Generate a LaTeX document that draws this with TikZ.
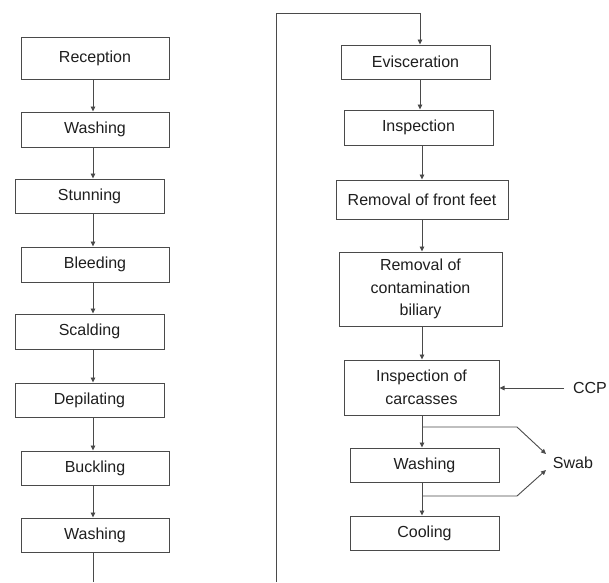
\documentclass[tikz,border=0pt]{standalone}
\usepackage{fontspec}
\setmainfont{Liberation Sans}
\usetikzlibrary{arrows.meta}
\definecolor{ln}{HTML}{4A4A4A}
\definecolor{tx}{HTML}{1E1E1E}
\begin{document}
\begin{tikzpicture}[x=1pt,y=-1pt,
  box/.style={draw=ln,line width=1pt,rectangle,inner sep=0pt,align=center,
    font=\fontsize{16}{22.5}\selectfont,text=tx},
  lbl/.style={inner sep=0pt,font=\fontsize{16}{20}\selectfont,text=tx},
  con/.style={draw=ln,line width=0.9pt},
  arr/.style={con,-{Triangle[length=5pt,width=4.5pt]}}]
\useasboundingbox (0,0) rectangle (609,582);
% left column
\node[box,minimum width=148pt,minimum height=42pt] (rec) at (95,58) {Reception};
\node[box,minimum width=148pt,minimum height=35pt] (wa1) at (95,129.5) {Washing};
\node[box,minimum width=149pt,minimum height=34pt] (stu) at (89.5,196) {Stunning};
\node[box,minimum width=148pt,minimum height=35pt] (ble) at (95,264.5) {Bleeding};
\node[box,minimum width=149pt,minimum height=35pt] (sca) at (89.5,331.5) {Scalding};
\node[box,minimum width=149pt,minimum height=34pt] (dep) at (89.5,400) {Depilating};
\node[box,minimum width=148pt,minimum height=34pt] (buc) at (95,468) {Buckling};
\node[box,minimum width=148pt,minimum height=34pt] (wa2) at (95,535) {Washing};
\coordinate (colL) at (93,0);
\coordinate (endL) at (93,582);
\draw[arr] (rec.south -| colL) -- (wa1.north -| colL);
\draw[arr] (wa1.south -| colL) -- (stu.north -| colL);
\draw[arr] (stu.south -| colL) -- (ble.north -| colL);
\draw[arr] (ble.south -| colL) -- (sca.north -| colL);
\draw[arr] (sca.south -| colL) -- (dep.north -| colL);
\draw[arr] (dep.south -| colL) -- (buc.north -| colL);
\draw[arr] (buc.south -| colL) -- (wa2.north -| colL);
\draw[con] (wa2.south -| colL) -- (endL);
% right column
\node[box,minimum width=149pt,minimum height=34pt] (evi) at (415.5,62) {Evisceration};
\node[box,minimum width=149pt,minimum height=35pt] (ins) at (418.5,127.5) {Inspection};
\node[box,minimum width=172pt,minimum height=39pt] (rff) at (422,199.5) {Removal of front feet};
\node[box,minimum width=163pt,minimum height=74pt] (rcb) at (420.5,289) {Removal of\\contamination\\biliary};
\node[box,minimum width=155pt,minimum height=55pt] (ioc) at (421.5,387.5) {Inspection of\\carcasses};
\node[box,minimum width=149pt,minimum height=34pt] (wa3) at (424.5,465) {Washing};
\node[box,minimum width=149pt,minimum height=34pt] (coo) at (424.5,533) {Cooling};
\node[lbl] (ccp) at (590,388) {CCP};
\node[lbl] (swab) at (573,463) {Swab};
\coordinate (colR) at (422,0);
\coordinate (colE) at (420,0);
\coordinate (startR) at (276,582);
\coordinate (c1) at (276,13);
\coordinate (c2) at (420,13);
\draw[arr] (startR) -- (c1) -- (c2) -- (evi.north -| colE);
\draw[arr] (evi.south -| colE) -- (ins.north -| colE);
\draw[arr] (ins.south -| colR) -- (rff.north -| colR);
\draw[arr] (rff.south -| colR) -- (rcb.north -| colR);
\draw[arr] (rcb.south -| colR) -- (ioc.north -| colR);
\draw[arr] (ioc.south -| colR) -- (wa3.north -| colR);
\draw[arr] (wa3.south -| colR) -- (coo.north -| colR);
\coordinate (ccpa) at (564,388);
\draw[arr] (ccpa) -- (ioc.east |- ccpa);
\coordinate (b1) at (422,427);
\coordinate (k1) at (517,427);
\coordinate (s1) at (546,454);
\coordinate (b2) at (422,496);
\coordinate (k2) at (517,496);
\coordinate (s2) at (546,470);
\draw[arr] (b1) -- (k1) -- (s1);
\draw[arr] (b2) -- (k2) -- (s2);
\end{tikzpicture}
\end{document}
